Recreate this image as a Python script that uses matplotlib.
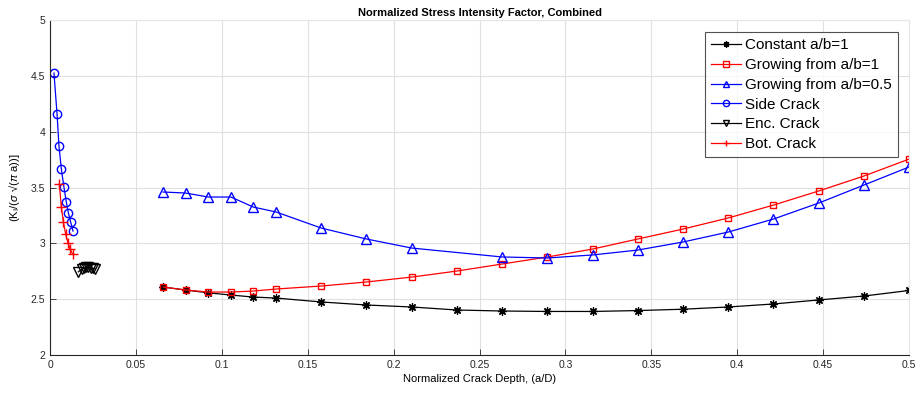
import matplotlib
matplotlib.use("Agg")
import matplotlib.pyplot as plt

plt.rcParams['font.family'] = ['Liberation Sans', 'DejaVu Sans']
plt.rcParams['mathtext.fontset'] = 'custom'
plt.rcParams['mathtext.rm'] = 'Liberation Sans'
plt.rcParams['mathtext.it'] = 'Liberation Sans:italic'

# Normalized crack depth for the elliptical crack series
ad_main = [0.0658, 0.0789, 0.0921, 0.1053, 0.1184, 0.1316, 0.1579, 0.1842,
           0.2105, 0.2368, 0.2632, 0.2895, 0.3158, 0.3421, 0.3684, 0.3947,
           0.4211, 0.4474, 0.4737, 0.5]
k_constant = [2.609, 2.582, 2.557, 2.537, 2.519, 2.510, 2.475, 2.448,
              2.430, 2.403, 2.394, 2.390, 2.390, 2.398, 2.410, 2.430,
              2.457, 2.493, 2.528, 2.578]
k_grow_1 = [2.609, 2.582, 2.564, 2.564, 2.573, 2.591, 2.618, 2.654,
            2.698, 2.752, 2.815, 2.878, 2.949, 3.039, 3.128, 3.227,
            3.343, 3.469, 3.603, 3.755]

ad_grow_05 = [0.0658, 0.0789, 0.0921, 0.1053, 0.1184, 0.1316, 0.1579, 0.1842,
              0.2105, 0.2632, 0.2895, 0.3158, 0.3421, 0.3684, 0.3947,
              0.4211, 0.4474, 0.4737, 0.5]
k_grow_05 = [3.460, 3.451, 3.415, 3.415, 3.325, 3.281, 3.137, 3.039,
             2.958, 2.878, 2.869, 2.896, 2.940, 3.012, 3.101,
             3.218, 3.361, 3.522, 3.684]

ad_side = [0.0023, 0.0041, 0.0052, 0.0066, 0.0081, 0.0095, 0.0107, 0.0120, 0.0134]
k_side = [4.525, 4.158, 3.872, 3.666, 3.504, 3.370, 3.272, 3.191, 3.110]

ad_enc = [0.0165, 0.0185, 0.0200, 0.0212, 0.0224, 0.0236, 0.0248, 0.0262]
k_enc = [2.745, 2.770, 2.780, 2.785, 2.785, 2.780, 2.778, 2.772]

ad_bot = [0.0054, 0.0066, 0.0078, 0.0091, 0.0105, 0.0116, 0.0132]
k_bot = [3.531, 3.325, 3.191, 3.084, 3.003, 2.949, 2.904]

x_ticks = [0, 0.05, 0.1, 0.15, 0.2, 0.25, 0.3, 0.35, 0.4, 0.45, 0.5]
x_labels = ['0', '0.05', '0.1', '0.15', '0.2', '0.25', '0.3', '0.35', '0.4', '0.45', '0.5']
y_ticks = [2, 2.5, 3, 3.5, 4, 4.5, 5]
y_labels = ['2', '2.5', '3', '3.5', '4', '4.5', '5']

fig = plt.figure(figsize=(9.16, 3.94), dpi=100)
ax = fig.add_axes([0.0546, 0.099, 0.9378, 0.850])

lw = 0.9
asterisk = (8, 2, 0)
ax.plot(ad_main, k_constant, color='black', marker=asterisk, mew=0.9, lw=lw, ms=6,
        label='Constant a/b=1')
ax.plot(ad_main, k_grow_1, color='red', marker='s', mfc='none', lw=lw, ms=5,
        label='Growing from a/b=1')
ax.plot(ad_grow_05, k_grow_05, color='blue', marker='^', mfc='none', lw=lw, ms=6.5,
        label='Growing from a/b=0.5')
ax.plot(ad_side, k_side, color='blue', marker='o', mfc='none', lw=lw, ms=6,
        label='Side Crack')
ax.plot(ad_enc, k_enc, color='black', marker='v', mfc='none', lw=lw, ms=6.5,
        label='Enc. Crack')
ax.plot(ad_bot, k_bot, color='red', marker='+', mfc='none', lw=lw, ms=7,
        label='Bot. Crack')

ax.set_xlim(0, 0.5)
ax.set_ylim(2, 5)
ax.set_xticks(x_ticks)
ax.set_xticklabels(x_labels)
ax.set_yticks(y_ticks)
ax.set_yticklabels(y_labels)
ax.tick_params(direction='in', length=4, width=0.6, labelsize=7.5,
               top=False, right=False, colors='#262626')
ax.grid(True, color='#e0e0e0', lw=0.8)
ax.set_axisbelow(True)
for s in ['top', 'right']:
    ax.spines[s].set_color('#e6e6e6')
    ax.spines[s].set_linewidth(0.8)
for s in ['left', 'bottom']:
    ax.spines[s].set_color('#262626')
    ax.spines[s].set_linewidth(0.8)

ax.set_title('Normalized Stress Intensity Factor, Combined', fontsize=8,
             fontweight='bold', pad=3)
ax.set_xlabel('Normalized Crack Depth, (a/D)', fontsize=8, labelpad=3)
ax.set_ylabel(r'(K$_\mathrm{I}$/($\sigma$ √($\pi$ a))]', fontsize=8, labelpad=6)

leg = ax.legend(loc='upper right', bbox_to_anchor=(0.987, 0.964), fontsize=11,
                frameon=True, fancybox=False, edgecolor='#262626',
                handlelength=2.0, handletextpad=0.25, labelspacing=0.38,
                borderpad=0.4, borderaxespad=0)
leg.get_frame().set_linewidth(0.8)
for handle in leg.get_lines():
    handle.set_markersize(4.5)

fig.savefig('out.png', dpi=100)
